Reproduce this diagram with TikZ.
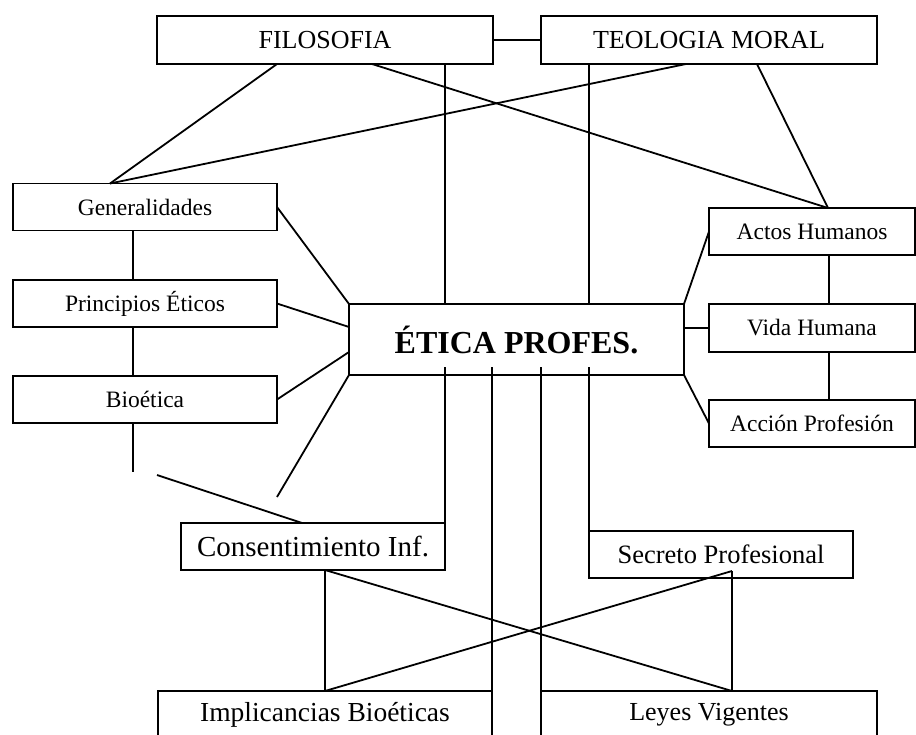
\documentclass[tikz,border=0pt]{standalone}
\usepackage{fontspec}
\setmainfont{Liberation Serif}

\begin{document}
\begin{tikzpicture}[
    x=1pt, y=-1pt,
    box/.style={draw, rectangle, line width=1.8pt, inner sep=0pt, outer sep=0pt, minimum height=47pt, font=\fontsize{23.5}{26}\selectfont},
    conn/.style={line width=1.8pt},
]
\path[use as bounding box, fill=white] (0,0) rectangle (916,734);
\clip (0,0) rectangle (916,734);

% Top
\node[box, minimum width=336pt, minimum height=48pt, font=\fontsize{26}{28}\selectfont] (filo) at (325,40) {FILOSOFIA};
\node[box, minimum width=336pt, minimum height=48pt, font=\fontsize{26}{28}\selectfont] (teol) at (709,40) {TEOLOGIA MORAL};

% Centre
\node[box, minimum width=335pt, minimum height=71pt, font=\fontsize{32}{34}\selectfont\bfseries] (etica) at (516.5,339.5) {ÉTICA PROFES.};

% Left column
\node[box, minimum width=264pt] (gen) at (145,207) {Generalidades};
\node[box, minimum width=264pt] (prin) at (145,303.5) {Principios Éticos};
\node[box, minimum width=264pt] (bio) at (145,399.5) {Bioética};

% Right column
\node[box, minimum width=206pt] (actos) at (812,231.5) {Actos Humanos};
\node[box, minimum width=206pt, minimum height=48pt] (vida) at (812,328) {Vida Humana};
\node[box, minimum width=206pt] (accion) at (812,423.5) {Acción Profesión};

% Lower boxes
\node[box, minimum width=264pt, font=\fontsize{29}{31}\selectfont] (cons) at (313,546.5) {Consentimiento Inf.};
\node[box, minimum width=264pt, font=\fontsize{26.5}{28}\selectfont] (secr) at (721,554.5) {Secreto Profesional};
\node[box, minimum width=334pt, font=\fontsize{27.5}{29}\selectfont] (impl) at (325,714.5) {Implicancias Bioéticas};
\node[box, minimum width=336pt, font=\fontsize{26}{28}\selectfont] (leyes) at (709,714.5) {Leyes Vigentes};

% Free ends
\coordinate (biofin) at (133,472);
\coordinate (consfin) at (157,475);
\coordinate (eticafin) at (277,497);

% Top links
\draw[conn] (filo) -- (teol);
\draw[conn] ([xshift=120pt]filo.south west) -- ([xshift=97pt]gen.north west);
\draw[conn] ([xshift=145pt]teol.south west) -- ([xshift=97pt]gen.north west);
\draw[conn] ([xshift=215pt]filo.south west) -- ([xshift=119pt]actos.north west);
\draw[conn] ([xshift=216pt]teol.south west) -- ([xshift=119pt]actos.north west);
\draw[conn] ([xshift=288pt]filo.south west) -- ([xshift=96pt]etica.north west);
\draw[conn] ([xshift=48pt]teol.south west) -- ([xshift=240pt]etica.north west);

% Left links
\draw[conn] (gen.east) -- (etica.north west);
\draw[conn] (prin.east) -- ([yshift=-23pt]etica.north west);
\draw[conn] (bio.east) -- ([yshift=23pt]etica.south west);
\draw[conn] (etica.south west) -- (eticafin);
\draw[conn] ([xshift=120pt]gen.south west) -- ([xshift=120pt]prin.north west);
\draw[conn] ([xshift=120pt]prin.south west) -- ([xshift=120pt]bio.north west);
\draw[conn] ([xshift=120pt]bio.south west) -- (biofin);
\draw[conn] (consfin) -- ([xshift=121pt]cons.north west);

% Right links
\draw[conn] (etica.north east) -- (actos.west);
\draw[conn] (etica.east |- vida.west) -- (vida.west);
\draw[conn] (etica.south east) -- (accion.west);
\draw[conn] ([xshift=120pt]actos.south west) -- ([xshift=120pt]vida.north west);
\draw[conn] ([xshift=120pt]vida.south west) -- ([xshift=120pt]accion.north west);

% Bottom links
\draw[conn] ([xshift=96pt,yshift=8pt]etica.south west) -- (cons.north east);
\draw[conn] ([xshift=143pt,yshift=8pt]etica.south west) -- (impl.north east);
\draw[conn] ([xshift=192pt,yshift=8pt]etica.south west) -- (leyes.north west);
\draw[conn] ([xshift=240pt,yshift=8pt]etica.south west) -- (secr.north west);
\draw[conn] ([xshift=144pt]cons.south west) -- (impl.north);
\draw[conn] ([xshift=144pt]cons.south west) -- ([xshift=191pt]leyes.north west);
\draw[conn] ([xshift=143pt,yshift=7pt]secr.south west) -- ([xshift=191pt]leyes.north west);
\draw[conn] ([xshift=143pt,yshift=7pt]secr.south west) -- (impl.north);

\end{tikzpicture}
\end{document}
